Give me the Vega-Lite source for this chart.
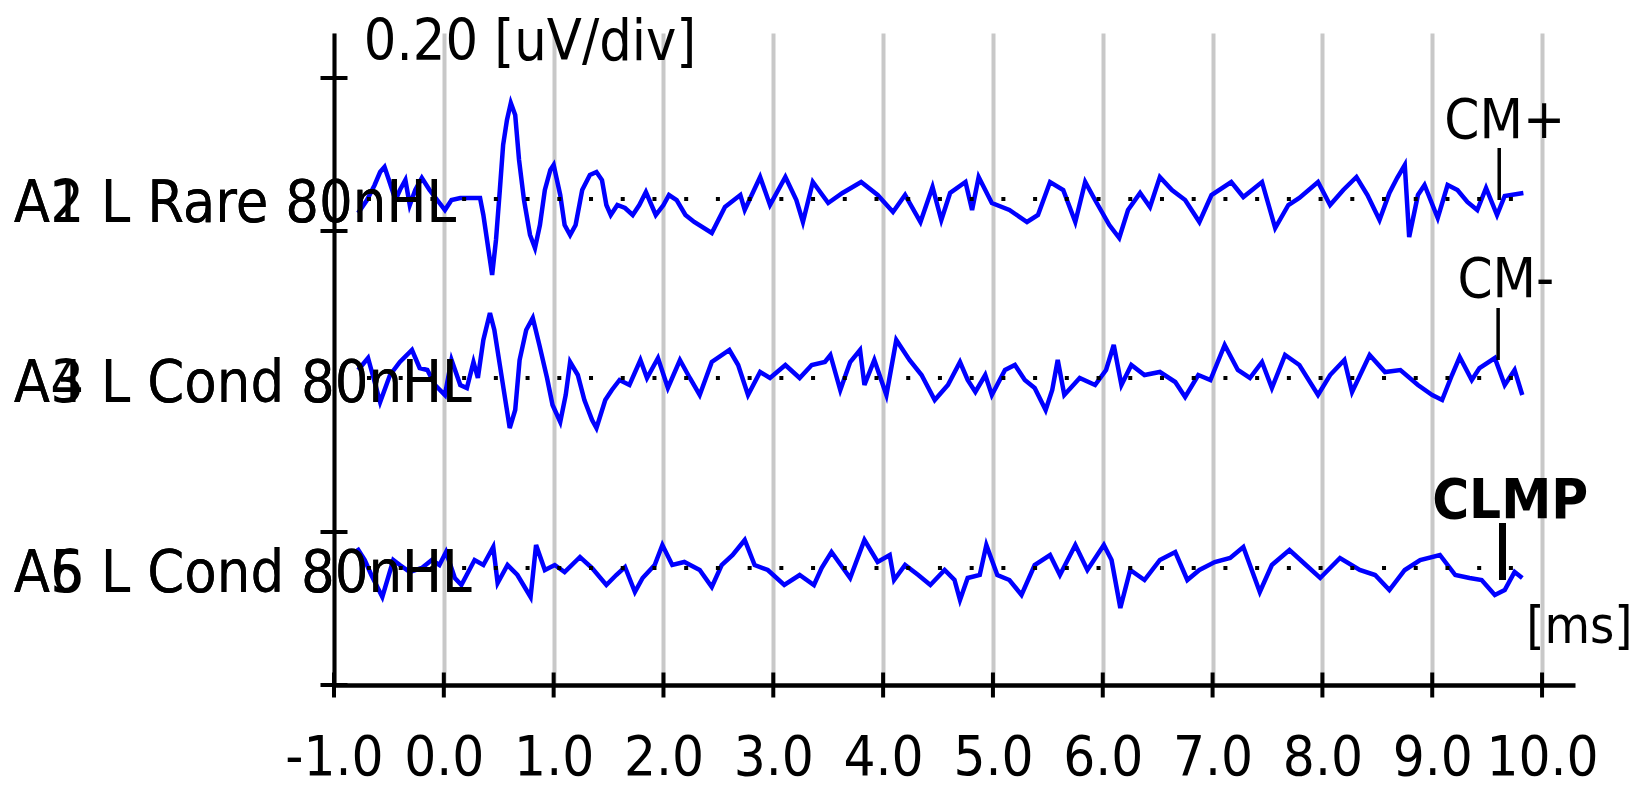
{
  "$schema": "https://vega.github.io/schema/vega-lite/v6.json",
  "width": 1241,
  "height": 652,
  "autosize": "none",
  "padding": {"left": 334, "top": 33, "right": 62, "bottom": 103},
  "background": "white",
  "config": {
    "view": {"stroke": null},
    "axisX": {"domainColor": "black", "domainWidth": 4.5, "ticks": false, "tickSize": 0, "grid": true, "gridColor": "#c8c8c8", "gridWidth": 4, "labelFont": "Liberation Sans Narrow, DejaVu Sans Condensed, Liberation Sans, sans-serif", "labelFontSize": 56, "labelColor": "black", "labelPadding": 45, "labelOverlap": false, "labelBound": false, "labelFlush": false, "title": null},
    "axisY": {"domainColor": "black", "domainWidth": 4, "ticks": false, "labels": false, "grid": false, "title": null},
    "text": {"font": "Liberation Sans Narrow, DejaVu Sans Condensed, Liberation Sans, sans-serif", "fontSize": 59, "color": "black", "baseline": "alphabetic"}
  },
  "datasets": {
    "traces": [
      {"s":1,"t":-0.78,"v":472},{"s":1,"t":-0.70,"v":485},{"s":1,"t":-0.63,"v":500},{"s":1,"t":-0.58,"v":513},{"s":1,"t":-0.54,"v":518},{"s":1,"t":-0.50,"v":505},{"s":1,"t":-0.44,"v":485},{"s":1,"t":-0.40,"v":495},{"s":1,"t":-0.35,"v":505},{"s":1,"t":-0.31,"v":480},{"s":1,"t":-0.26,"v":495},{"s":1,"t":-0.20,"v":507},{"s":1,"t":-0.13,"v":495},{"s":1,"t":-0.06,"v":485},{"s":1,"t":0.01,"v":475},{"s":1,"t":0.07,"v":485},{"s":1,"t":0.15,"v":487},{"s":1,"t":0.25,"v":487},{"s":1,"t":0.33,"v":487},{"s":1,"t":0.36,"v":470},{"s":1,"t":0.42,"v":425},{"s":1,"t":0.44,"v":410},{"s":1,"t":0.475,"v":445},{"s":1,"t":0.51,"v":495},{"s":1,"t":0.54,"v":540},{"s":1,"t":0.575,"v":565},{"s":1,"t":0.61,"v":582},{"s":1,"t":0.65,"v":570},{"s":1,"t":0.685,"v":525},{"s":1,"t":0.73,"v":485},{"s":1,"t":0.785,"v":450},{"s":1,"t":0.83,"v":437},{"s":1,"t":0.875,"v":460},{"s":1,"t":0.92,"v":495},{"s":1,"t":0.97,"v":515},{"s":1,"t":1.00,"v":520},{"s":1,"t":1.06,"v":490},{"s":1,"t":1.10,"v":460},{"s":1,"t":1.15,"v":450},{"s":1,"t":1.20,"v":460},{"s":1,"t":1.26,"v":495},{"s":1,"t":1.33,"v":510},{"s":1,"t":1.39,"v":513},{"s":1,"t":1.44,"v":505},{"s":1,"t":1.48,"v":480},{"s":1,"t":1.52,"v":470},{"s":1,"t":1.58,"v":480},{"s":1,"t":1.65,"v":477},{"s":1,"t":1.72,"v":470},{"s":1,"t":1.78,"v":480},{"s":1,"t":1.84,"v":493},{"s":1,"t":1.93,"v":470},{"s":1,"t":2.00,"v":480},{"s":1,"t":2.05,"v":490},{"s":1,"t":2.12,"v":485},{"s":1,"t":2.20,"v":470},{"s":1,"t":2.28,"v":463},{"s":1,"t":2.44,"v":452},{"s":1,"t":2.56,"v":478},{"s":1,"t":2.70,"v":490},{"s":1,"t":2.74,"v":475},{"s":1,"t":2.88,"v":508},{"s":1,"t":2.97,"v":480},{"s":1,"t":3.11,"v":508},{"s":1,"t":3.21,"v":485},{"s":1,"t":3.27,"v":463},{"s":1,"t":3.36,"v":503},{"s":1,"t":3.50,"v":482},{"s":1,"t":3.63,"v":492},{"s":1,"t":3.80,"v":503},{"s":1,"t":3.95,"v":490},{"s":1,"t":4.09,"v":473},{"s":1,"t":4.20,"v":490},{"s":1,"t":4.34,"v":463},{"s":1,"t":4.45,"v":498},{"s":1,"t":4.53,"v":465},{"s":1,"t":4.61,"v":492},{"s":1,"t":4.75,"v":503},{"s":1,"t":4.81,"v":475},{"s":1,"t":4.87,"v":508},{"s":1,"t":4.99,"v":482},{"s":1,"t":5.15,"v":475},{"s":1,"t":5.31,"v":463},{"s":1,"t":5.41,"v":470},{"s":1,"t":5.52,"v":503},{"s":1,"t":5.64,"v":495},{"s":1,"t":5.75,"v":463},{"s":1,"t":5.84,"v":503},{"s":1,"t":5.93,"v":485},{"s":1,"t":6.06,"v":460},{"s":1,"t":6.15,"v":447},{"s":1,"t":6.23,"v":475},{"s":1,"t":6.34,"v":492},{"s":1,"t":6.43,"v":478},{"s":1,"t":6.52,"v":508},{"s":1,"t":6.63,"v":495},{"s":1,"t":6.75,"v":485},{"s":1,"t":6.88,"v":463},{"s":1,"t":6.99,"v":490},{"s":1,"t":7.17,"v":503},{"s":1,"t":7.28,"v":488},{"s":1,"t":7.45,"v":503},{"s":1,"t":7.57,"v":457},{"s":1,"t":7.69,"v":480},{"s":1,"t":7.79,"v":487},{"s":1,"t":7.96,"v":503},{"s":1,"t":8.07,"v":480},{"s":1,"t":8.19,"v":495},{"s":1,"t":8.31,"v":508},{"s":1,"t":8.41,"v":490},{"s":1,"t":8.52,"v":465},{"s":1,"t":8.61,"v":492},{"s":1,"t":8.68,"v":507},{"s":1,"t":8.75,"v":520},{"s":1,"t":8.79,"v":448},{"s":1,"t":8.87,"v":490},{"s":1,"t":8.93,"v":500},{"s":1,"t":9.05,"v":467},{"s":1,"t":9.14,"v":500},{"s":1,"t":9.23,"v":495},{"s":1,"t":9.32,"v":483},{"s":1,"t":9.41,"v":475},{"s":1,"t":9.49,"v":497},{"s":1,"t":9.59,"v":470},{"s":1,"t":9.66,"v":489},{"s":1,"t":9.83,"v":492},
      {"s":2,"t":-0.78,"v":315},{"s":2,"t":-0.69,"v":327},{"s":2,"t":-0.58,"v":283},{"s":2,"t":-0.49,"v":310},{"s":2,"t":-0.40,"v":323},{"s":2,"t":-0.29,"v":335},{"s":2,"t":-0.22,"v":317},{"s":2,"t":-0.15,"v":315},{"s":2,"t":-0.08,"v":300},{"s":2,"t":0.01,"v":290},{"s":2,"t":0.07,"v":325},{"s":2,"t":0.15,"v":300},{"s":2,"t":0.21,"v":297},{"s":2,"t":0.27,"v":323},{"s":2,"t":0.31,"v":307},{"s":2,"t":0.36,"v":345},{"s":2,"t":0.42,"v":372},{"s":2,"t":0.46,"v":355},{"s":2,"t":0.51,"v":320},{"s":2,"t":0.56,"v":285},{"s":2,"t":0.60,"v":257},{"s":2,"t":0.65,"v":275},{"s":2,"t":0.69,"v":325},{"s":2,"t":0.75,"v":355},{"s":2,"t":0.81,"v":367},{"s":2,"t":0.87,"v":340},{"s":2,"t":0.94,"v":307},{"s":2,"t":0.99,"v":280},{"s":2,"t":1.06,"v":263},{"s":2,"t":1.11,"v":290},{"s":2,"t":1.15,"v":323},{"s":2,"t":1.22,"v":310},{"s":2,"t":1.28,"v":285},{"s":2,"t":1.35,"v":265},{"s":2,"t":1.39,"v":257},{"s":2,"t":1.47,"v":285},{"s":2,"t":1.53,"v":295},{"s":2,"t":1.60,"v":305},{"s":2,"t":1.69,"v":300},{"s":2,"t":1.79,"v":325},{"s":2,"t":1.85,"v":307},{"s":2,"t":1.95,"v":327},{"s":2,"t":2.04,"v":297},{"s":2,"t":2.15,"v":325},{"s":2,"t":2.24,"v":307},{"s":2,"t":2.33,"v":290},{"s":2,"t":2.44,"v":323},{"s":2,"t":2.60,"v":335},{"s":2,"t":2.68,"v":320},{"s":2,"t":2.77,"v":290},{"s":2,"t":2.88,"v":313},{"s":2,"t":2.97,"v":307},{"s":2,"t":3.11,"v":320},{"s":2,"t":3.24,"v":307},{"s":2,"t":3.35,"v":320},{"s":2,"t":3.47,"v":323},{"s":2,"t":3.52,"v":330},{"s":2,"t":3.61,"v":295},{"s":2,"t":3.70,"v":323},{"s":2,"t":3.79,"v":335},{"s":2,"t":3.83,"v":300},{"s":2,"t":3.92,"v":325},{"s":2,"t":4.03,"v":290},{"s":2,"t":4.12,"v":345},{"s":2,"t":4.24,"v":325},{"s":2,"t":4.35,"v":310},{"s":2,"t":4.47,"v":285},{"s":2,"t":4.59,"v":300},{"s":2,"t":4.70,"v":323},{"s":2,"t":4.77,"v":305},{"s":2,"t":4.84,"v":293},{"s":2,"t":4.93,"v":310},{"s":2,"t":4.99,"v":290},{"s":2,"t":5.11,"v":315},{"s":2,"t":5.20,"v":320},{"s":2,"t":5.29,"v":305},{"s":2,"t":5.38,"v":297},{"s":2,"t":5.48,"v":275},{"s":2,"t":5.54,"v":295},{"s":2,"t":5.59,"v":325},{"s":2,"t":5.65,"v":290},{"s":2,"t":5.79,"v":307},{"s":2,"t":5.93,"v":300},{"s":2,"t":6.03,"v":315},{"s":2,"t":6.10,"v":340},{"s":2,"t":6.17,"v":300},{"s":2,"t":6.26,"v":320},{"s":2,"t":6.38,"v":310},{"s":2,"t":6.52,"v":313},{"s":2,"t":6.66,"v":303},{"s":2,"t":6.75,"v":288},{"s":2,"t":6.87,"v":310},{"s":2,"t":6.98,"v":305},{"s":2,"t":7.11,"v":340},{"s":2,"t":7.23,"v":315},{"s":2,"t":7.34,"v":307},{"s":2,"t":7.45,"v":323},{"s":2,"t":7.54,"v":297},{"s":2,"t":7.66,"v":330},{"s":2,"t":7.79,"v":320},{"s":2,"t":7.96,"v":290},{"s":2,"t":8.07,"v":310},{"s":2,"t":8.20,"v":325},{"s":2,"t":8.27,"v":293},{"s":2,"t":8.43,"v":330},{"s":2,"t":8.57,"v":313},{"s":2,"t":8.71,"v":315},{"s":2,"t":8.87,"v":300},{"s":2,"t":9.00,"v":290},{"s":2,"t":9.09,"v":285},{"s":2,"t":9.18,"v":310},{"s":2,"t":9.25,"v":328},{"s":2,"t":9.36,"v":305},{"s":2,"t":9.43,"v":317},{"s":2,"t":9.57,"v":327},{"s":2,"t":9.66,"v":300},{"s":2,"t":9.75,"v":315},{"s":2,"t":9.82,"v":290},
      {"s":3,"t":-0.79,"v":137},{"s":3,"t":-0.72,"v":125},{"s":3,"t":-0.66,"v":110},{"s":3,"t":-0.56,"v":88},{"s":3,"t":-0.46,"v":125},{"s":3,"t":-0.40,"v":120},{"s":3,"t":-0.31,"v":113},{"s":3,"t":-0.20,"v":117},{"s":3,"t":-0.11,"v":125},{"s":3,"t":-0.04,"v":120},{"s":3,"t":0.02,"v":133},{"s":3,"t":0.10,"v":107},{"s":3,"t":0.16,"v":100},{"s":3,"t":0.28,"v":125},{"s":3,"t":0.36,"v":120},{"s":3,"t":0.45,"v":138},{"s":3,"t":0.49,"v":102},{"s":3,"t":0.58,"v":120},{"s":3,"t":0.67,"v":110},{"s":3,"t":0.79,"v":88},{"s":3,"t":0.84,"v":140},{"s":3,"t":0.92,"v":115},{"s":3,"t":1.01,"v":120},{"s":3,"t":1.10,"v":113},{"s":3,"t":1.24,"v":128},{"s":3,"t":1.35,"v":117},{"s":3,"t":1.48,"v":100},{"s":3,"t":1.57,"v":110},{"s":3,"t":1.65,"v":118},{"s":3,"t":1.74,"v":93},{"s":3,"t":1.81,"v":107},{"s":3,"t":1.92,"v":120},{"s":3,"t":1.99,"v":140},{"s":3,"t":2.08,"v":120},{"s":3,"t":2.19,"v":123},{"s":3,"t":2.33,"v":115},{"s":3,"t":2.44,"v":98},{"s":3,"t":2.53,"v":120},{"s":3,"t":2.63,"v":130},{"s":3,"t":2.74,"v":145},{"s":3,"t":2.83,"v":120},{"s":3,"t":2.95,"v":115},{"s":3,"t":3.10,"v":100},{"s":3,"t":3.24,"v":110},{"s":3,"t":3.37,"v":100},{"s":3,"t":3.44,"v":117},{"s":3,"t":3.53,"v":133},{"s":3,"t":3.70,"v":107},{"s":3,"t":3.83,"v":145},{"s":3,"t":3.95,"v":123},{"s":3,"t":4.06,"v":130},{"s":3,"t":4.10,"v":105},{"s":3,"t":4.20,"v":120},{"s":3,"t":4.32,"v":110},{"s":3,"t":4.43,"v":100},{"s":3,"t":4.56,"v":115},{"s":3,"t":4.65,"v":105},{"s":3,"t":4.70,"v":85},{"s":3,"t":4.77,"v":107},{"s":3,"t":4.88,"v":110},{"s":3,"t":4.94,"v":140},{"s":3,"t":5.04,"v":110},{"s":3,"t":5.15,"v":105},{"s":3,"t":5.26,"v":90},{"s":3,"t":5.38,"v":120},{"s":3,"t":5.52,"v":130},{"s":3,"t":5.61,"v":110},{"s":3,"t":5.75,"v":140},{"s":3,"t":5.86,"v":115},{"s":3,"t":6.01,"v":140},{"s":3,"t":6.08,"v":125},{"s":3,"t":6.16,"v":77},{"s":3,"t":6.25,"v":115},{"s":3,"t":6.38,"v":105},{"s":3,"t":6.52,"v":125},{"s":3,"t":6.66,"v":133},{"s":3,"t":6.77,"v":105},{"s":3,"t":6.88,"v":115},{"s":3,"t":7.02,"v":123},{"s":3,"t":7.16,"v":127},{"s":3,"t":7.28,"v":138},{"s":3,"t":7.43,"v":93},{"s":3,"t":7.54,"v":120},{"s":3,"t":7.70,"v":135},{"s":3,"t":7.85,"v":120},{"s":3,"t":7.98,"v":107},{"s":3,"t":8.16,"v":127},{"s":3,"t":8.34,"v":115},{"s":3,"t":8.48,"v":110},{"s":3,"t":8.61,"v":95},{"s":3,"t":8.75,"v":115},{"s":3,"t":8.89,"v":125},{"s":3,"t":9.07,"v":130},{"s":3,"t":9.21,"v":110},{"s":3,"t":9.34,"v":107},{"s":3,"t":9.45,"v":105},{"s":3,"t":9.57,"v":90},{"s":3,"t":9.66,"v":95},{"s":3,"t":9.75,"v":113},{"s":3,"t":9.82,"v":107}
    ],
    "baselines": [
      {"s":1,"t0":-0.78,"t1":9.83,"v":486},
      {"s":2,"t0":-0.78,"t1":9.83,"v":307},
      {"s":3,"t0":-0.78,"t1":9.83,"v":117}
    ],
    "yticks": [{"v":0},{"v":153},{"v":454},{"v":607}],
    "xticks": [{"t":-1},{"t":0},{"t":1},{"t":2},{"t":3},{"t":4},{"t":5},{"t":6},{"t":7},{"t":8},{"t":9},{"t":10}],
    "leftlabels": [
      {"label":"A1 L Rare 80nHL","t":-3.915,"v":463},
      {"label":"A2 L Rare 80nHL","t":-3.915,"v":463},
      {"label":"A3 L Cond 80nHL","t":-3.915,"v":283},
      {"label":"A4 L Cond 80nHL","t":-3.915,"v":283},
      {"label":"A5 L Cond 80nHL","t":-3.915,"v":93},
      {"label":"A6 L Cond 80nHL","t":-3.915,"v":93}
    ],
    "scalelabel": [
      {"label":"0.20 [uV/div]","t":-0.728,"v":625}
    ],
    "marks": [
      {"label":"CM+","t":9.66,"v":547},
      {"label":"CM-","t":9.67,"v":388}
    ],
    "unitlabel": [
      {"label":"[ms]","t":10.34,"v":42}
    ],
    "boldmarks": [
      {"label":"CLMP","t":9.71,"v":167}
    ],
    "arrows": [
      {"label":"CM+","t":9.61,"v":537,"v2":485},
      {"label":"CM-","t":9.60,"v":377,"v2":325}
    ],
    "boldarrows": [
      {"label":"CLMP","t":9.64,"v":162,"v2":105}
    ]
  },
  "layer": [
    {
      "data": {"name": "traces"},
      "mark": {"type": "line", "color": "#0000ff", "strokeWidth": 4.5, "interpolate": "linear", "strokeJoin": "miter"},
      "encoding": {
        "x": {"field": "t", "type": "quantitative", "scale": {"domain": [-1, 10.3], "nice": false, "zero": false}, "title": null,
              "axis": {"values": [-1,0,1,2,3,4,5,6,7,8,9,10], "labelOverlap": false, "labelExpr": "datum.value < 0 ? '-' + format(-datum.value, '.1f') : format(datum.value, '.1f')"}},
        "y": {"field": "v", "type": "quantitative", "scale": {"domain": [0, 652], "nice": false, "zero": false}, "title": null},
        "detail": {"field": "s"}
      }
    },
    {
      "data": {"name": "baselines"},
      "mark": {"type": "rule", "color": "black", "strokeWidth": 4, "strokeDash": [4, 27.72], "strokeDashOffset": 22.9},
      "encoding": {
        "x": {"field": "t0", "type": "quantitative", "title": null},
        "x2": {"field": "t1"},
        "y": {"field": "v", "type": "quantitative", "title": null}
      }
    },
    {
      "data": {"name": "yticks"},
      "mark": {"type": "tick", "orient": "horizontal", "color": "black", "size": 27, "thickness": 4, "opacity": 1},
      "encoding": {
        "x": {"datum": -1, "type": "quantitative", "title": null},
        "y": {"field": "v", "type": "quantitative", "title": null}
      }
    },
    {
      "data": {"name": "xticks"},
      "mark": {"type": "tick", "orient": "vertical", "color": "black", "size": 25, "thickness": 4, "opacity": 1},
      "encoding": {
        "x": {"field": "t", "type": "quantitative", "title": null},
        "y": {"datum": 0, "type": "quantitative", "title": null}
      }
    },
    {
      "data": {"name": "arrows"},
      "mark": {"type": "rule", "color": "black", "strokeWidth": 3.5},
      "encoding": {
        "x": {"field": "t", "type": "quantitative", "title": null},
        "y": {"field": "v", "type": "quantitative", "title": null},
        "y2": {"field": "v2"}
      }
    },
    {
      "data": {"name": "boldarrows"},
      "mark": {"type": "rule", "color": "black", "strokeWidth": 7},
      "encoding": {
        "x": {"field": "t", "type": "quantitative", "title": null},
        "y": {"field": "v", "type": "quantitative", "title": null},
        "y2": {"field": "v2"}
      }
    },
    {
      "data": {"name": "leftlabels"},
      "mark": {"type": "text", "align": "left", "fontSize": 59},
      "encoding": {
        "x": {"field": "t", "type": "quantitative", "title": null},
        "y": {"field": "v", "type": "quantitative", "title": null},
        "text": {"field": "label"}
      }
    },
    {
      "data": {"name": "scalelabel"},
      "mark": {"type": "text", "align": "left", "fontSize": 57},
      "encoding": {
        "x": {"field": "t", "type": "quantitative", "title": null},
        "y": {"field": "v", "type": "quantitative", "title": null},
        "text": {"field": "label"}
      }
    },
    {
      "data": {"name": "marks"},
      "mark": {"type": "text", "align": "center", "fontSize": 56},
      "encoding": {
        "x": {"field": "t", "type": "quantitative", "title": null},
        "y": {"field": "v", "type": "quantitative", "title": null},
        "text": {"field": "label"}
      }
    },
    {
      "data": {"name": "unitlabel"},
      "mark": {"type": "text", "align": "center", "fontSize": 52},
      "encoding": {
        "x": {"field": "t", "type": "quantitative", "title": null},
        "y": {"field": "v", "type": "quantitative", "title": null},
        "text": {"field": "label"}
      }
    },
    {
      "data": {"name": "boldmarks"},
      "mark": {"type": "text", "align": "center", "fontWeight": "bold", "fontSize": 56},
      "encoding": {
        "x": {"field": "t", "type": "quantitative", "title": null},
        "y": {"field": "v", "type": "quantitative", "title": null},
        "text": {"field": "label"}
      }
    }
  ]
}
